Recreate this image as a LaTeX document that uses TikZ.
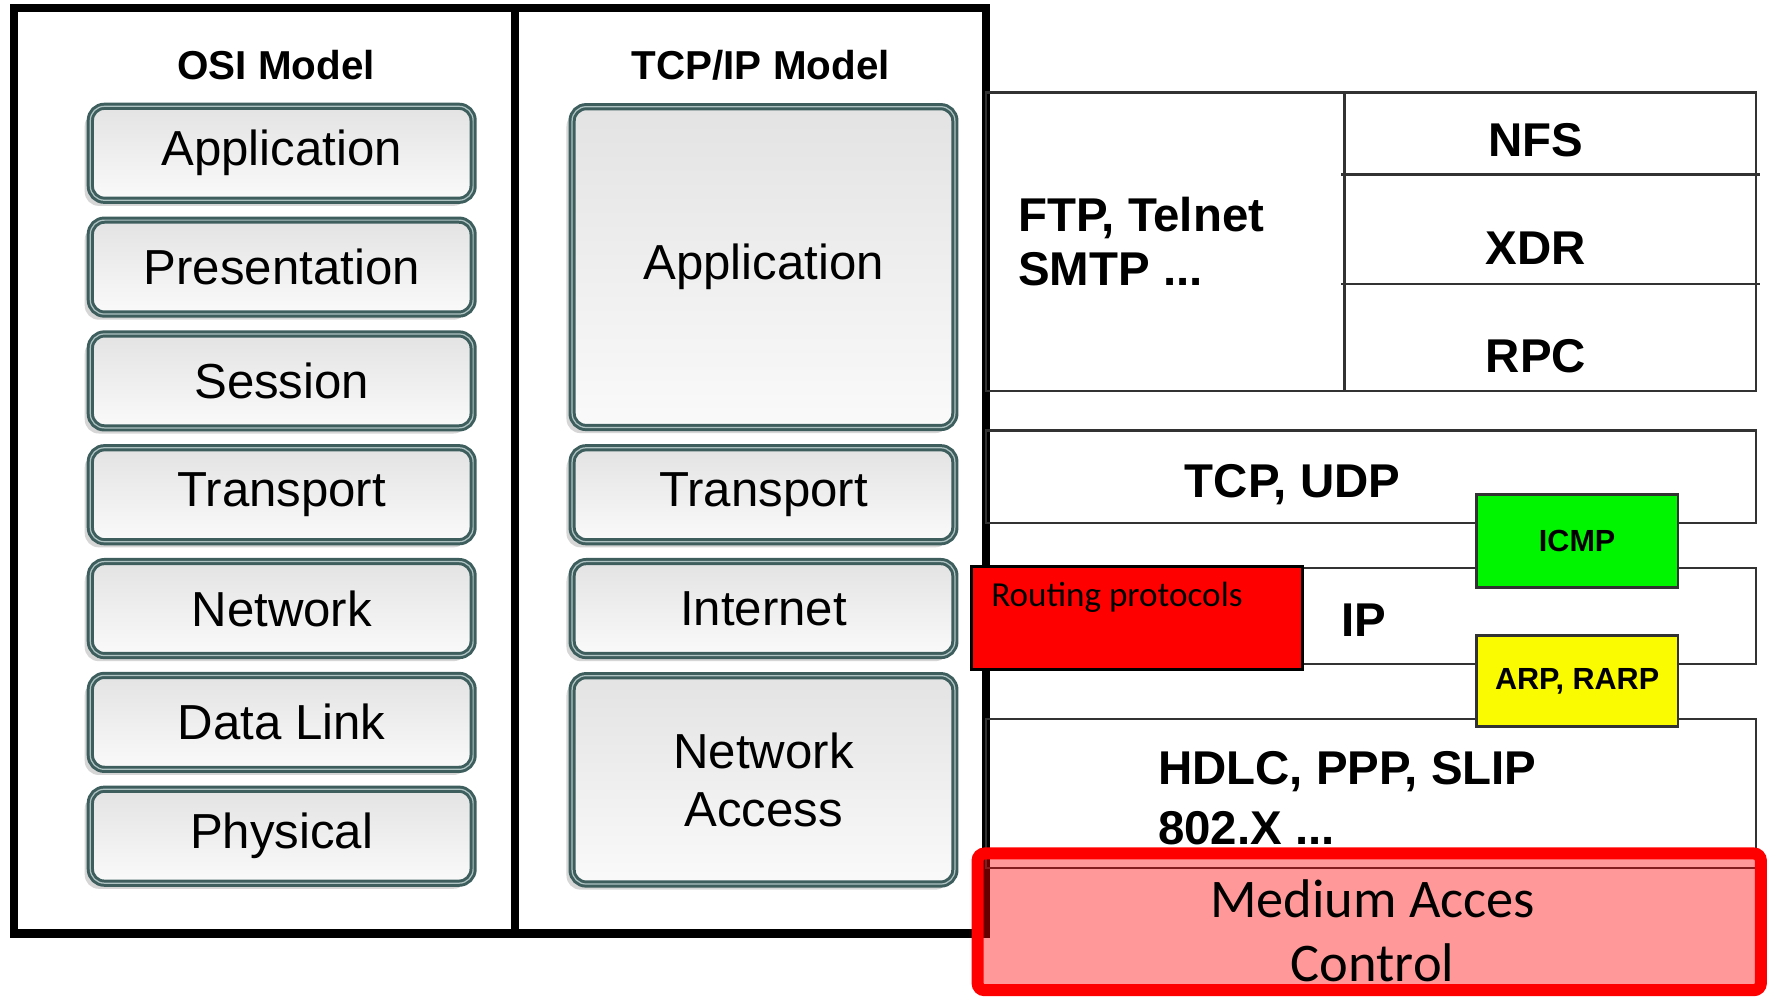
\documentclass[tikz,border=0pt]{standalone}
\usepackage{fontspec}
\setmainfont{Liberation Sans}
\newfontfamily\calfont{Carlito}
\usepackage{tikz}
\usetikzlibrary{shadows}
\definecolor{layer_edge}{RGB}{62,94,94}
\definecolor{layer_light}{RGB}{175,195,195}
\definecolor{proto_line}{RGB}{50,50,50}
\definecolor{icmp_green}{RGB}{0,245,0}
\definecolor{arp_yellow}{RGB}{250,250,0}
\definecolor{mac_red}{RGB}{255,0,0}

\begin{document}
\begin{tikzpicture}[x=0.01127cm,y=-0.01127cm]
    \tikzstyle{layer}=[draw=layer_edge, line width=0.85pt, double=layer_light, double distance=0.35pt,
                       rounded corners=4pt, top color=black!11, bottom color=black!2, inner sep=0pt,
                       minimum width=3.83cm, minimum height=0.94cm, align=center,
                       font=\fontsize{14}{16.7}\selectfont,
                       drop shadow={shadow xshift=-1.6pt, shadow yshift=-1.6pt, fill=black!16, opacity=1}]
    \tikzstyle{title}=[font=\bfseries\fontsize{11.5}{13}\selectfont]
    \tikzstyle{proto}=[draw=proto_line, line width=0.7pt]
    \tikzstyle{plabel}=[font=\bfseries\fontsize{13.5}{15.4}\selectfont, inner sep=0pt]
    \tikzstyle{smallbox}=[draw=proto_line, line width=0.8pt, inner sep=0pt, minimum width=2.017cm,
                          font=\bfseries\fontsize{8.7}{10}\selectfont]

    \useasboundingbox (0,0) rectangle (1568,884);

    % frame of the two models
    \draw[line width=0.085cm, fill=white] (12.5,7) rectangle (875,828.5);
    \draw[line width=0.085cm] (457,7) -- (457,828.5);

    \node[title] (osititle) at (245,58) {OSI Model};
    \node[title] (tcptitle) at (675,58) {TCP/IP Model};

    % OSI layers
    \node[layer] (osiapp)  at (250,136) {Application};
    \node[layer] (osipres) at (250,237) {Presentation};
    \node[layer] (osisess) at (250,338) {Session};
    \node[layer] (ositran) at (250,439) {Transport};
    \node[layer] (osinet)  at (250,540) {Network};
    \node[layer] (osidl)   at (250,641) {Data Link};
    \node[layer] (osiphy)  at (250,742) {Physical};

    % TCP/IP layers
    \node[layer, minimum height=3.21cm]  (tcpapp)  at (677.5,237) {Application};
    \node[layer]                         (tcptran) at (677.5,439) {Transport};
    \node[layer]                         (tcpinet) at (677.5,540) {Internet};
    \node[layer, minimum height=2.085cm] (tcpna)   at (677.5,692) {Network\\Access};

    % protocol stack
    \draw[proto] (875,82) rectangle (1558,347);
    \draw[proto] (1193,82) -- (1193,347);
    \draw[proto] (1190,155) -- (1562,155);
    \draw[proto] (1190,252) -- (1562,252);
    \node[plabel, anchor=west, align=left] (ftp) at (903,214) {FTP, Telnet\\SMTP ...};
    \node[plabel] (nfs) at (1363,124) {NFS};
    \node[plabel] (xdr) at (1363,220) {XDR};
    \node[plabel] (rpc) at (1363,316) {RPC};

    \draw[proto] (875,382) rectangle (1558,464);
    \node[plabel] (tcpudp) at (1147,430) {TCP, UDP};

    \draw[proto] (875,504) rectangle (1558,589);
    \node[plabel] (ip) at (1210,550) {IP};

    \draw[proto] (875,638) rectangle (1558,770);
    \node[plabel, anchor=west, align=left, font=\bfseries\fontsize{13.5}{17}\selectfont] (hdlc) at (1027,708.5) {HDLC, PPP, SLIP\\802.X ...};

    \node[smallbox, fill=icmp_green, minimum height=0.924cm] (icmp) at (1399.5,480) {ICMP};
    \node[smallbox, fill=arp_yellow, minimum height=0.913cm] (arp)  at (1399.5,604.5) {ARP, RARP};

    \node[draw=black, line width=0.8pt, fill=mac_red, inner sep=0pt, minimum width=3.313cm, minimum height=1.026cm] (routing) at (1009,548.5) {};
    \node[anchor=west, inner sep=0pt, font=\calfont\fontsize{10}{12}\selectfont] (routingtxt) at (879,530) {Routing protocols};

    % medium access control
    \node[draw=mac_red, line width=0.12cm, rounded corners=2pt, fill=mac_red, fill opacity=0.4,
          inner sep=0pt, minimum width=7.837cm, minimum height=1.368cm] (mac) at (1215,818) {};
    \node[align=center, font=\calfont\fontsize{15.5}{18.3}\selectfont] (mactxt) at (1218,826) {Medium Acces\\Control};
\end{tikzpicture}
\end{document}
